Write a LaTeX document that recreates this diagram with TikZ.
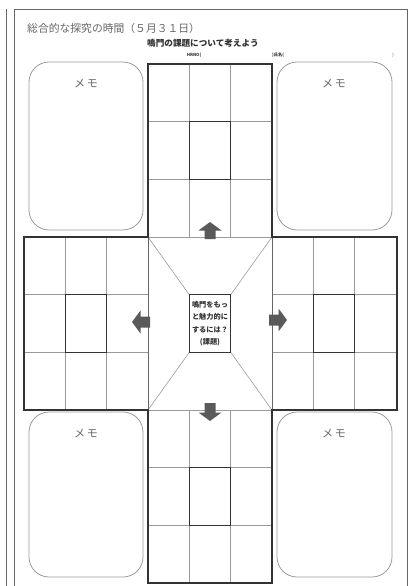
\documentclass[tikz,border=0pt]{standalone}
\usepackage{fontspec}
\newfontfamily\jp{Noto Sans CJK JP}
\definecolor{dark}{HTML}{333333}
\definecolor{mid}{HTML}{666666}
\definecolor{light}{HTML}{9A9A9A}
\definecolor{arrowgray}{HTML}{5A5A5A}
\begin{document}
\begin{tikzpicture}[x=1pt,y=-1pt,
  outer/.style={draw=dark,line width=1.1pt},
  inner/.style={draw=light,line width=0.7pt},
  innerdark/.style={draw=dark,line width=1pt},
  memobox/.style={draw=light,line width=0.8pt,rounded corners=20pt},
  memotext/.style={font=\jp\fontsize{11}{13}\selectfont,text=mid},
  blockarrow/.style={fill=arrowgray,draw=none}]
\useasboundingbox (0,0) rectangle (409,586);
% page frame
\draw[mid,line width=0.9pt] (6,9) -- (6,586);
\draw[mid,line width=0.9pt] (14,586) -- (14,9) -- (407,9) -- (407,586);
% texts
\node[anchor=west,font=\jp\fontsize{10.8}{12}\selectfont,text=mid,inner sep=0] (title) at (27,28) {総合的な探究の時間（５月３１日）};
\node[font=\jp\bfseries\fontsize{8.6}{10}\selectfont,text=dark,inner sep=0] (sub) at (203,43) {鳴門の課題について考えよう};
\node[font=\jp\bfseries\fontsize{4.2}{5}\selectfont,text=dark,inner sep=0] (hr) at (194,55) {HRNO(};
\node[anchor=west,font=\jp\bfseries\fontsize{4.2}{5}\selectfont,text=dark,inner sep=0] (nm) at (272,55) {)氏名(};
\node[font=\jp\fontsize{4.2}{5}\selectfont,text=dark,inner sep=0] (nm2) at (393,55) {)};
% memo boxes
\draw[memobox] (29,62) rectangle (143,230);
\draw[memobox] (277,62) rectangle (392,230);
\draw[memobox] (29,412) rectangle (143,577);
\draw[memobox] (277,412) rectangle (392,577);
\node[memotext] (m1) at (86,83) {メ\,モ};
\node[memotext] (m2) at (334,83) {メ\,モ};
\node[memotext] (m3) at (86,433) {メ\,モ};
\node[memotext] (m4) at (334,433) {メ\,モ};
% grid arms: inner lines
\foreach \x in {189.3,230.7} {\draw[inner] (\x,64) -- (\x,237); \draw[inner] (\x,410) -- (\x,583);}
\foreach \y in {121.7,179.3} {\draw[inner] (148,\y) -- (272,\y);}
\foreach \y in {467.7,525.3} {\draw[inner] (148,\y) -- (272,\y);}
\foreach \x in {65.3,106.7,313.3,354.7} {\draw[inner] (\x,237) -- (\x,410);}
\foreach \y in {294.7,352.3} {\draw[inner] (24,\y) -- (148,\y); \draw[inner] (272,\y) -- (397,\y);}
% center region
\draw[inner] (148,237) rectangle (272,410);
\draw[inner,line width=0.6pt] (148,237) -- (189.3,294.7);
\draw[inner,line width=0.6pt] (272,237) -- (230.7,294.7);
\draw[inner,line width=0.6pt] (148,410) -- (189.3,352.3);
\draw[inner,line width=0.6pt] (272,410) -- (230.7,352.3);
\draw[draw=mid,line width=0.9pt] (148,237) -- (148,410);
\draw[draw=mid,line width=0.9pt] (272,237) -- (272,410);
% central cells dark
\draw[innerdark] (189.3,121.7) rectangle (230.7,179.3);
\draw[innerdark] (189.3,467.7) rectangle (230.7,525.3);
\draw[innerdark] (65.3,294.7) rectangle (106.7,352.3);
\draw[innerdark] (313.3,294.7) rectangle (354.7,352.3);
\draw[innerdark] (189.3,294.7) rectangle (230.7,352.3);
% cross outline
\draw[outer] (148,64) -- (272,64) -- (272,237) -- (397,237) -- (397,410) -- (272,410) -- (272,583) -- (148,583) -- (148,410) -- (24,410) -- (24,237) -- (148,237) -- cycle;
% center text
\node[font=\jp\bfseries\fontsize{7.2}{12.3}\selectfont,text=dark,align=center,inner sep=0] (task) at (210,323.5) {鳴門をもっ\\と魅力的に\\するには？\\(課題)};
% block arrows
\fill[blockarrow] (210,222) -- (221.5,230.5) -- (215.5,230.5) -- (215.5,239) -- (204.5,239) -- (204.5,230.5) -- (198.5,230.5) -- cycle;
\fill[blockarrow] (210,421) -- (221.5,412.5) -- (215.5,412.5) -- (215.5,403) -- (204.5,403) -- (204.5,412.5) -- (198.5,412.5) -- cycle;
\fill[blockarrow] (132,322) -- (140.5,310.5) -- (140.5,316.5) -- (150,316.5) -- (150,327.5) -- (140.5,327.5) -- (140.5,333.5) -- cycle;
\fill[blockarrow] (287,320) -- (278.5,308.5) -- (278.5,314.5) -- (269,314.5) -- (269,325.5) -- (278.5,325.5) -- (278.5,331.5) -- cycle;
\end{tikzpicture}
\end{document}
